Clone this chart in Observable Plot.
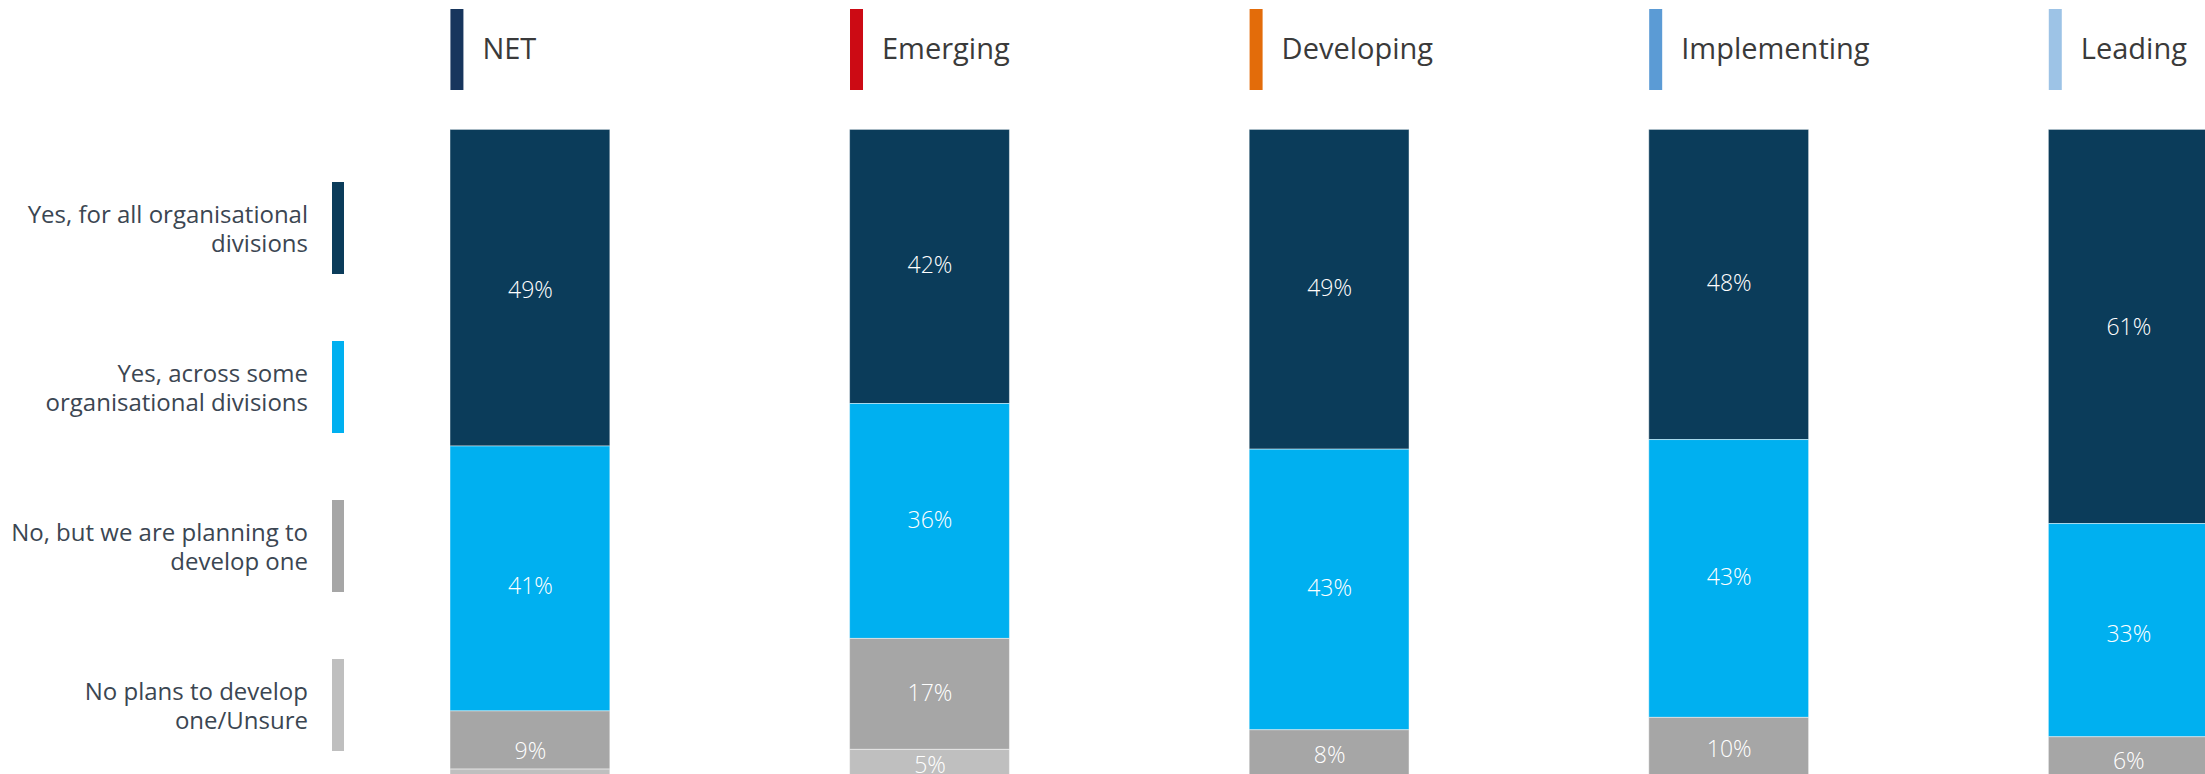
<!DOCTYPE html>
<html>
<head>
<meta charset="utf-8">
<script src="https://cdn.jsdelivr.net/npm/d3@7"></script>
<script src="https://cdn.jsdelivr.net/npm/@observablehq/plot@0.6"></script>
<style>
  html, body { margin: 0; padding: 0; background: #fff; }
  #wrap { position: relative; width: 2205px; height: 774px; overflow: hidden; font-family: "Open Sans", sans-serif; }
  #chart { position: absolute; left: 0; top: 0; }
  .leg { position: absolute; left: 0; width: 344px; height: 92px; }
  .leg .sw { position: absolute; left: 332px; top: 0; width: 12px; height: 92px; }
  .leg .tx { position: absolute; right: 36px; top: 50%; transform: translateY(-50%); text-align: right;
             font-size: 24px; line-height: 29px; color: #3b4652; width: 320px; }
</style>
</head>
<body>
<div id="wrap">
  <div id="legend"></div>
  <div id="chart"></div>
</div>
<script>
// ---- data ----
const stages = ["NET", "Emerging", "Developing", "Implementing", "Leading"];
const stageColors = ["#17365d", "#cc0a14", "#e36c0a", "#5b9bd5", "#9dc3e6"];
const responses = [
  "Yes, for all organisational divisions",
  "Yes, across some organisational divisions",
  "No, but we are planning to develop one",
  "No plans to develop one/Unsure"
];
const responseLines = [
  ["Yes, for all organisational", "divisions"],
  ["Yes, across some", "organisational divisions"],
  ["No, but we are planning to", "develop one"],
  ["No plans to develop", "one/Unsure"]
];
const responseColors = ["#0b3c5a", "#00b0f0", "#a6a6a6", "#bfbfbf"];
const yesAll   = [49, 42, 49, 48, 61];
const yesSome  = [41, 36, 43, 43, 33];
const planning = [9, 17, 8, 10, 6];
const noPlans  = [2, 5, 0, 0, 1];

const series = [yesAll, yesSome, planning, noPlans];
const rows = [];
stages.forEach((s, i) => {
  responses.forEach((r, j) => rows.push({stage: s, response: r, value: series[j][i]}));
});

// ---- legend (left) ----
const legTops = [182, 341, 500, 659];
const legend = document.getElementById("legend");
responses.forEach((r, j) => {
  const d = document.createElement("div");
  d.className = "leg";
  d.style.top = legTops[j] + "px";
  d.innerHTML = `<div class="sw" style="background:${responseColors[j]}"></div>` +
    `<div class="tx">${responseLines[j].join("<br>")}</div>`;
  legend.appendChild(d);
});

// ---- chart ----
const W = 2205, H = 774;
const stackOpts = {x: "stage", y: "value", z: "response", order: responses, offset: "normalize"};
const plot = Plot.plot({
  width: W,
  height: H,
  margin: 0,
  style: {fontFamily: "Open Sans, sans-serif", background: "transparent"},
  x: {type: "band", domain: stages, range: [450, 2208.2], paddingInner: 0.6, paddingOuter: 0, align: 0, round: false, axis: null},
  y: {domain: [0, 1], range: [129.4, 782], axis: null},
  color: {domain: responses, range: responseColors},
  marks: [
    Plot.barY(rows, Plot.stackY({...stackOpts, fill: "response", stroke: "white", strokeOpacity: 0.45, strokeWidth: 1})),
    Plot.text(rows, Plot.stackY({...stackOpts, text: d => d.value + "%", filter: d => d.value >= 3,
      fill: "white", fontSize: 23, fontWeight: 300, dy: -1})),
    Plot.ruleX(stages, {x: d => d, stroke: (d, i) => stageColors[i], strokeWidth: 13, dx: -73.5,
      insetTop: 9, insetBottom: H - 90}),
    Plot.text(stages, {x: d => d, text: d => d, frameAnchor: "top", dy: 49, dx: -48,
      textAnchor: "start", fontSize: 29, fill: "#3a3a3a", lineAnchor: "middle"})
  ]
});
document.getElementById("chart").appendChild(plot);
</script>
</body>
</html>
